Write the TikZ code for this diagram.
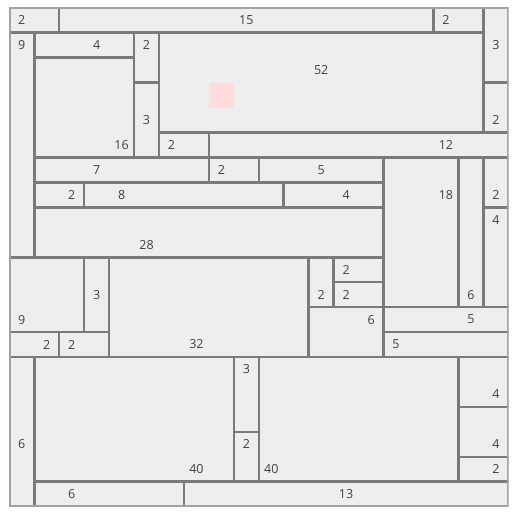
\documentclass[tikz,border=0pt]{standalone}
\usepackage{fontspec}
\setmainfont{Open Sans}
\definecolor{cellfill}{HTML}{EEEEEE}
\definecolor{cellline}{HTML}{7A7A7A}
\definecolor{outerline}{HTML}{A3A3A3}
\definecolor{pinkfill}{HTML}{FFDDDD}
\definecolor{lbltext}{HTML}{404040}
\tikzset{
  cellbox/.style={draw=cellline, line width=2.6pt},
  outerbox/.style={draw=outerline, line width=3.2pt},
  lbl/.style={text=lbltext, font=\fontsize{12.5}{14}\selectfont, inner sep=0pt},
  pinkbox/.style={fill=pinkfill, draw=none}
}
% name, x0, y0, x1, y1, text, label x, label y
\newcommand\tmcell[8]{%
  \draw[cellbox] (#2,#3) rectangle (#4,#5);
  \node[lbl] (#1) at (#7,#8) {#6};}
\begin{document}
\begin{tikzpicture}[x=24.95pt, y=-24.95pt]
\useasboundingbox (-0.3727,-0.3086) rectangle (20.349,20.212);
\begin{scope}
\clip (0,0) rectangle (20,20);
\fill[cellfill] (0,0) rectangle (20,20);
\tmcell{a}{0}{0}{2}{1}{2}{0.5}{0.5}
\tmcell{b}{2}{0}{17}{1}{15}{9.5}{0.5}
\tmcell{c}{17}{0}{19}{1}{2}{17.5}{0.5}
\tmcell{d}{19}{0}{20}{3}{3}{19.5}{1.5}
\tmcell{e}{0}{1}{1}{10}{9}{0.5}{1.5}
\tmcell{f}{1}{1}{5}{2}{4}{3.5}{1.5}
\tmcell{g}{5}{1}{6}{3}{2}{5.5}{1.5}
\tmcell{h}{6}{1}{19}{5}{52}{12.5}{2.5}
\tmcell{i}{19}{3}{20}{5}{2}{19.5}{4.5}
\tmcell{j}{1}{2}{5}{6}{16}{4.5}{5.5}
\tmcell{k}{5}{3}{6}{6}{3}{5.5}{4.5}
\tmcell{l}{6}{5}{8}{6}{2}{6.5}{5.5}
\tmcell{m}{8}{5}{20}{6}{12}{17.5}{5.5}
\tmcell{n}{1}{6}{8}{7}{7}{3.5}{6.5}
\tmcell{o}{8}{6}{10}{7}{2}{8.5}{6.5}
\tmcell{p}{10}{6}{15}{7}{5}{12.5}{6.5}
\tmcell{q}{15}{6}{18}{12}{18}{17.5}{7.5}
\tmcell{r}{18}{6}{19}{12}{6}{18.5}{11.5}
\tmcell{s}{19}{6}{20}{8}{2}{19.5}{7.5}
\tmcell{t}{19}{8}{20}{12}{4}{19.5}{8.5}
\tmcell{u}{1}{7}{3}{8}{2}{2.5}{7.5}
\tmcell{v}{3}{7}{11}{8}{8}{4.5}{7.5}
\tmcell{w}{11}{7}{15}{8}{4}{13.5}{7.5}
\tmcell{x}{1}{8}{15}{10}{28}{5.5}{9.5}
\tmcell{y}{0}{10}{3}{13}{9}{0.5}{12.5}
\tmcell{z}{3}{10}{4}{13}{3}{3.5}{11.5}
\tmcell{aa}{0}{13}{2}{14}{2}{1.5}{13.5}
\tmcell{ab}{2}{13}{4}{14}{2}{2.5}{13.5}
\tmcell{ac}{4}{10}{12}{14}{32}{7.5}{13.5}
\tmcell{ad}{12}{10}{13}{12}{2}{12.5}{11.5}
\tmcell{ae}{13}{10}{15}{11}{2}{13.5}{10.5}
\tmcell{af}{13}{11}{15}{12}{2}{13.5}{11.5}
\tmcell{ag}{12}{12}{15}{14}{6}{14.5}{12.5}
\tmcell{ah}{15}{12}{20}{13}{5}{18.5}{12.5}
\tmcell{ai}{15}{13}{20}{14}{5}{15.5}{13.5}
\tmcell{aj}{0}{14}{1}{20}{6}{0.5}{17.5}
\tmcell{ak}{1}{14}{9}{19}{40}{7.5}{18.5}
\tmcell{al}{9}{14}{10}{17}{3}{9.5}{14.5}
\tmcell{am}{9}{17}{10}{19}{2}{9.5}{17.5}
\tmcell{an}{1}{19}{7}{20}{6}{2.5}{19.5}
\tmcell{ao}{7}{19}{20}{20}{13}{13.5}{19.5}
\tmcell{ap}{10}{14}{18}{19}{40}{10.5}{18.5}
\tmcell{aq}{18}{14}{20}{16}{4}{19.5}{15.5}
\tmcell{ar}{18}{16}{20}{18}{4}{19.5}{17.5}
\tmcell{as}{18}{18}{20}{19}{2}{19.5}{18.5}
\fill[pinkbox] (8,3) rectangle (9,4);
\draw[outerbox] (0,0) rectangle (20,20);
\end{scope}
\end{tikzpicture}
\end{document}
